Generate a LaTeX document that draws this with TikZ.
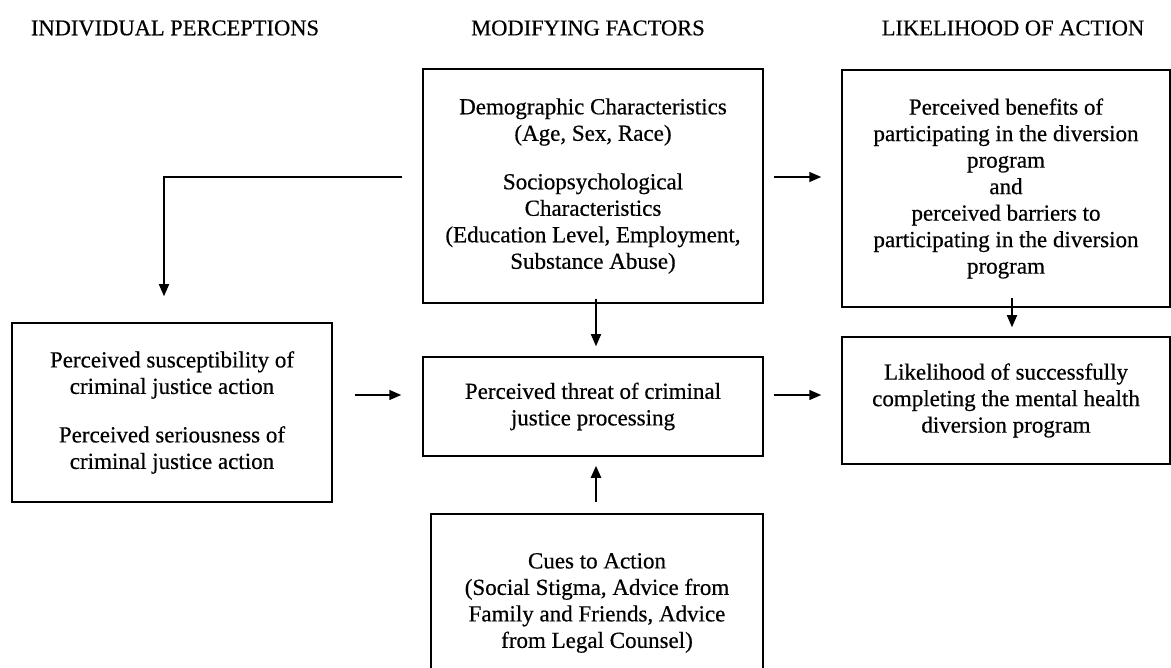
\documentclass[tikz,border=0pt]{standalone}
\usepackage{fontspec}
\setmainfont[FakeBold=0.5]{Liberation Serif}
\usetikzlibrary{arrows.meta,calc}
\begin{document}
\begin{tikzpicture}[x=1pt,y=-1pt,
  box/.style={draw, line width=1.5pt, align=center, inner sep=0pt,
    font=\fontsize{23}{26.5}\selectfont},
  hdr/.style={font=\fontsize{22.5}{26}\selectfont, inner sep=0pt},
  arr/.style={line width=1.5pt, -{Triangle[length=12pt,width=10pt]}}]
\useasboundingbox (0,0) rectangle (1171,668);
\clip (0,0) rectangle (1171,668);

\node[hdr] (h1) at (175,28) {INDIVIDUAL PERCEPTIONS};
\node[hdr] (h2) at (588,28) {MODIFYING FACTORS};
\node[hdr] (h3) at (1013,28) {LIKELIHOOD OF ACTION};

\node[box, minimum width=340pt, minimum height=234pt] (demo) at (593,186)
  {Demographic Characteristics\\(Age, Sex, Race)\\[22pt]Sociopsychological\\Characteristics\\(Education Level, Employment,\\Substance Abuse)};
\node[box, minimum width=328pt, minimum height=237pt] (ben) at (1006,188.5)
  {Perceived benefits of\\participating in the diversion\\program\\and\\perceived barriers to\\participating in the diversion\\program};
\node[box, minimum width=320pt, minimum height=179pt] (left) at (172,412.5)
  {Perceived susceptibility of\\criminal justice action\\[22pt]Perceived seriousness of\\criminal justice action};
\node[box, minimum width=340pt, minimum height=99pt] (threat) at (593,406.5)
  {Perceived threat of criminal\\justice processing};
\node[box, minimum width=328pt, minimum height=127pt] (like) at (1006,400.5)
  {Likelihood of successfully\\completing the mental health\\diversion program};
\node[box, minimum width=332pt, minimum height=178pt] (cues) at (597,603)
  {Cues to Action\\(Social Stigma, Advice from\\Family and Friends, Advice\\from Legal Counsel)};

\draw[arr, shorten <=10pt, shorten >=20pt] ([yshift=9pt]demo.east) -- ([yshift=9pt]demo.east -| ben.west);
\draw[arr, shorten <=10pt, shorten >=20pt] ([yshift=11.5pt]threat.east) -- ([yshift=11.5pt]threat.east -| like.west);
\draw[arr, shorten <=22pt, shorten >=21pt] ([yshift=17.5pt]left.east) -- ([yshift=17.5pt]left.east -| threat.west);
\draw[arr, shorten <=-5pt, shorten >=10pt] ([xshift=3pt]demo.south) -- ([xshift=3pt]demo.south |- threat.north);
\draw[arr, line width=2.2pt, shorten <=11pt, shorten >=9pt] ([xshift=-1pt]cues.north) -- ([xshift=-1pt]cues.north |- threat.south);
\draw[arr, shorten <=-10pt, shorten >=9pt] ([xshift=6pt]ben.south) -- ([xshift=6pt]ben.south |- like.north);
\draw[arr, shorten <=20pt, shorten >=26pt] ([yshift=9pt]demo.west) -| ([xshift=-8pt]left.north);
\end{tikzpicture}
\end{document}
